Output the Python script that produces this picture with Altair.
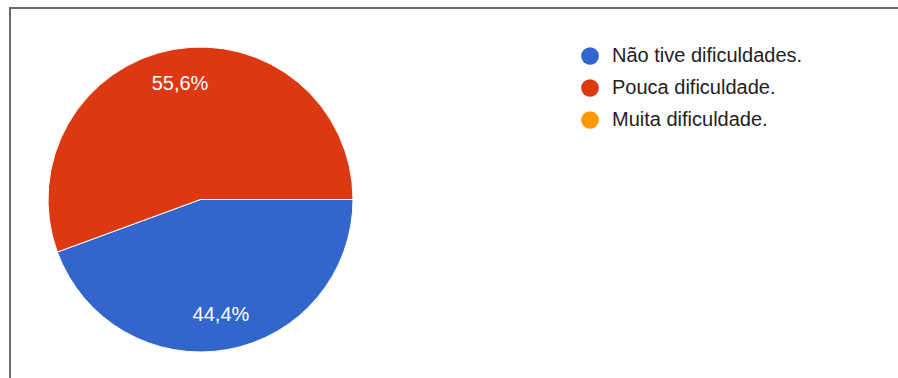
import math
import altair as alt
import pandas as pd

categories = ["Não tive dificuldades.", "Pouca dificuldade.", "Muita dificuldade."]
values = [44.4, 55.6, 0.0]
labels = ["44,4%", "55,6%", ""]
colors = ["#3366CC", "#DC3912", "#FF9900"]

df = pd.DataFrame({
    "cat": categories,
    "value": values,
    "label": labels,
    "idx": list(range(len(categories))),
})

start = math.pi / 2
theta = alt.Theta("value:Q", stack=True,
                  scale=alt.Scale(domain=[0, 100], range=[start, start + 2 * math.pi]))
order = alt.Order("idx:Q", sort="ascending")
cx, cy = 190.5, 191.5
W, H = 888, 370

base = alt.Chart(df)

pie = base.mark_arc(outerRadius=152.5, stroke="white", strokeWidth=1).encode(
    theta=theta,
    order=order,
    x=alt.value(cx),
    y=alt.value(cy),
    color=alt.Color(
        "cat:N",
        sort=categories,
        scale=alt.Scale(domain=categories, range=colors),
        legend=alt.Legend(
            title=None,
            orient="none",
            legendX=570,
            legendY=38,
            symbolType="circle",
            symbolSize=314,
            symbolStrokeWidth=0,
            symbolOpacity=1,
            labelFont="Liberation Sans",
            labelFontSize=20,
            labelColor="#222222",
            labelOffset=12,
            rowPadding=12,
            labelLimit=400,
        ),
    ),
)

text = base.mark_text(radius=117, fill="white", font="Liberation Sans",
                      fontSize=20, align="center", baseline="middle").encode(
    theta=theta,
    order=order,
    x=alt.value(cx),
    y=alt.value(cy),
    text="label:N",
)

frame_top = alt.Chart(df).mark_rule(color="#6b6b6b", strokeWidth=2, clip=False).encode(
    x=alt.value(-1), x2=alt.value(W + 2), y=alt.value(0)
)
frame_left = alt.Chart(df).mark_rule(color="#6b6b6b", strokeWidth=2, clip=False).encode(
    x=alt.value(0), y=alt.value(-1), y2=alt.value(H + 2)
)

chart = (pie + text + frame_top + frame_left).properties(
    width=W,
    height=H,
    padding={"left": 10, "top": 8, "right": 0, "bottom": 0},
    autosize=alt.AutoSizeParams(type="none"),
).configure_view(stroke=None)

chart.save("out.html", embed_options={"renderer": "svg", "actions": False})
